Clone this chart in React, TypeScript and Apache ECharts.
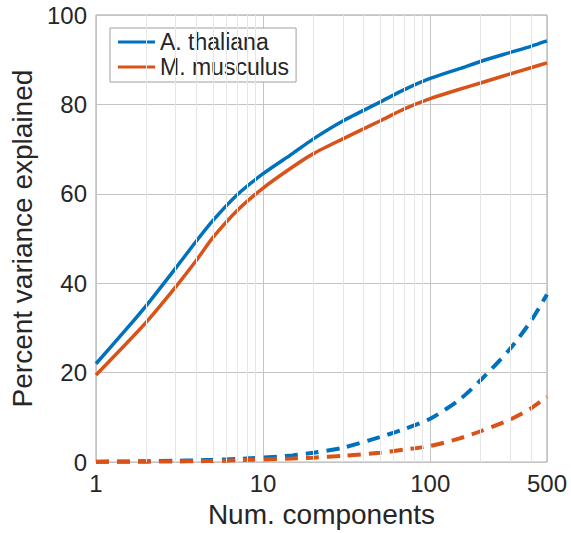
import React, { useEffect, useRef } from "react";
import * as echarts from "echarts";

const components = [1, 1.5, 2, 3, 4, 5, 7, 10, 15, 20, 30, 50, 70, 100, 150, 200, 300, 400, 500];
const thalianaPCA = [22.0, 29.5, 35.0, 43.4, 49.5, 54.0, 59.8, 64.5, 69.0, 72.3, 76.3, 80.5, 83.3, 85.8, 88.0, 89.6, 91.6, 93.0, 94.2];
const musculusPCA = [19.5, 26.3, 31.3, 39.2, 45.2, 50.2, 56.3, 61.3, 66.0, 69.0, 72.3, 76.3, 79.0, 81.3, 83.4, 84.8, 86.8, 88.2, 89.3];
const thalianaRand = [0.1, 0.15, 0.2, 0.3, 0.4, 0.5, 0.7, 1.0, 1.5, 2.1, 3.2, 5.6, 7.4, 9.7, 14.0, 18.3, 25.3, 31.5, 37.5];
const musculusRand = [0.05, 0.08, 0.1, 0.15, 0.2, 0.25, 0.4, 0.6, 0.8, 1.0, 1.4, 2.1, 2.8, 3.6, 5.3, 6.9, 9.5, 12.0, 14.6];
const minorTicks = [2, 3, 4, 5, 6, 7, 8, 9, 20, 30, 40, 50, 60, 70, 80, 90, 200, 300, 400];
const seriesNames = ["A. thaliana", "M. musculus"];

const BLUE = "#0072BD";
const ORANGE = "#D95319";
const FONT = "Liberation Sans, Arial, Helvetica, sans-serif";

const pairs = (ys: number[]) => components.map((x, i) => [x, ys[i]]);

const lineSeries = (name: string, ys: number[], color: string, dashed: boolean) => ({
  name,
  type: "line",
  data: pairs(ys),
  smooth: 0.25,
  showSymbol: false,
  z: 3,
  lineStyle: dashed
    ? { color, width: 4, type: [13, 8], cap: "butt" }
    : { color, width: 3.5 },
  itemStyle: { color },
});

export default function App() {
  const ref = useRef<HTMLDivElement>(null);
  useEffect(() => {
    if (!ref.current) return;
    const chart = echarts.init(ref.current, null, { renderer: "svg" });
    chart.setOption({
      animation: false,
      backgroundColor: "#fff",
      textStyle: { fontFamily: FONT },
      grid: {
        left: 96,
        right: 24,
        top: 15,
        bottom: 67,
        show: true,
        borderColor: "#a0a0a0",
        borderWidth: 1,
        backgroundColor: "transparent",
      },
      legend: {
        orient: "vertical",
        left: 110,
        top: 28,
        data: seriesNames.map((n) => ({ name: n, icon: "rect" })),
        itemWidth: 37,
        itemHeight: 3,
        itemGap: 1,
        padding: [2, 7, 3, 8],
        borderColor: "#a0a0a0",
        borderWidth: 1,
        backgroundColor: "#fff",
        textStyle: { fontSize: 23, lineHeight: 24, color: "#262626", fontFamily: FONT },
      },
      xAxis: {
        type: "log",
        logBase: 10,
        min: 1,
        max: 500,
        name: "Num. components",
        nameLocation: "middle",
        nameGap: 35,
        nameTextStyle: { fontSize: 28, color: "#262626", fontFamily: FONT },
        axisLine: { show: false },
        axisTick: { show: false },
        axisLabel: {
          fontSize: 24,
          color: "#262626",
          margin: 9,
          showMaxLabel: true,
          formatter: (v: number) => String(Math.round(v)),
        },
        splitLine: { show: true, lineStyle: { color: "#c4c4c4", width: 1 } },
      },
      yAxis: {
        type: "value",
        min: 0,
        max: 100,
        interval: 20,
        name: "Percent variance explained",
        nameLocation: "middle",
        nameGap: 58,
        nameRotate: 90,
        nameTextStyle: { fontSize: 28, color: "#262626", fontFamily: FONT },
        axisLine: { show: false },
        axisTick: { show: false },
        axisLabel: { fontSize: 24, color: "#262626", margin: 9 },
        splitLine: { show: true, lineStyle: { color: "#c4c4c4", width: 1 } },
      },
      series: [
        {
          name: "_minor",
          type: "line",
          data: [],
          z: 1,
          silent: true,
          markLine: {
            silent: true,
            symbol: "none",
            label: { show: false },
            lineStyle: { color: "#e6e6e6", type: "solid", width: 1 },
            data: minorTicks.map((v) => ({ xAxis: v })),
          },
        },
        lineSeries(seriesNames[0], thalianaPCA, BLUE, false),
        lineSeries(seriesNames[1], musculusPCA, ORANGE, false),
        lineSeries("A. thaliana (random)", thalianaRand, BLUE, true),
        lineSeries("M. musculus (random)", musculusRand, ORANGE, true),
      ],
    });
    return () => chart.dispose();
  }, []);
  return (
    <div
      ref={ref}
      style={{ position: "absolute", left: 0, top: 0, width: 571, height: 533 }}
    />
  );
}
